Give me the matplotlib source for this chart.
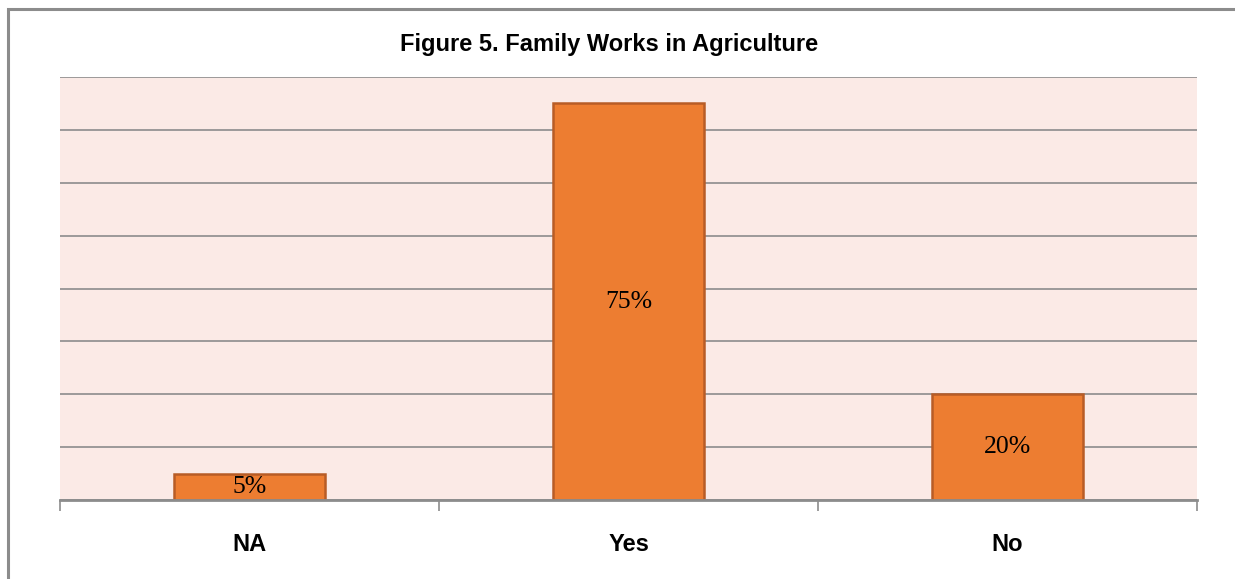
import numpy as np
import matplotlib
matplotlib.use("Agg")
import matplotlib.pyplot as plt
from matplotlib.patches import Rectangle

categories = ["NA", "Yes", "No"]
values = [5, 75, 20]
labels = ["5%", "75%", "20%"]

fig = plt.figure(figsize=(12.35, 5.79), dpi=100)
fig.patch.set_facecolor("white")

# outer chart border (only top/left visible in the crop)
fig.patches.append(Rectangle((8 / 1235, -0.1), 1.2, 1 - 9 / 579 + 0.1,
                             transform=fig.transFigure, fill=False,
                             edgecolor="#8c8c8c", lw=2.2))

ax = fig.add_axes([60 / 1235, 1 - 500 / 579, 1137 / 1235, 423 / 579])
ax.set_facecolor("#fbeae6")

x = np.arange(len(categories))
bars = ax.bar(x, values, width=0.4, color="#ed7d31", edgecolor="#b85c26", lw=1.8, zorder=3)

for b, lab in zip(bars, labels):
    ax.text(b.get_x() + b.get_width() / 2, b.get_height() / 2, lab,
            ha="center", va="center", fontsize=18.5, family="Liberation Serif",
            color="black", zorder=4)

ax.set_xlim(-0.5, 2.5)
ax.set_ylim(0, 80)
ax.set_yticks(np.arange(0, 81, 10))
ax.yaxis.grid(True, color="#8c8c8c", lw=1.2, zorder=0)
ax.tick_params(axis="y", left=False, labelleft=False)

ax.set_xticks([-0.5, 0.5, 1.5, 2.5])
ax.set_xticklabels([])
ax.set_xticks(x, minor=True)
ax.set_xticklabels(categories, minor=True, fontsize=17, fontweight="bold",
                   family="Liberation Sans")
ax.tick_params(axis="x", which="major", length=8, width=1.2, color="#8c8c8c")
ax.tick_params(axis="x", which="minor", length=0, pad=24)

for s in ["left", "right", "top"]:
    ax.spines[s].set_visible(False)
ax.spines["bottom"].set_color("#8c8c8c")
ax.spines["bottom"].set_linewidth(2)
ax.spines["bottom"].set_zorder(5)

fig.text(609 / 1235, 1 - 45 / 579, "Figure 5. Family Works in Agriculture",
         ha="center", va="center", fontsize=17, fontweight="bold",
         family="Liberation Sans")

fig.savefig("out.png", dpi=100)
